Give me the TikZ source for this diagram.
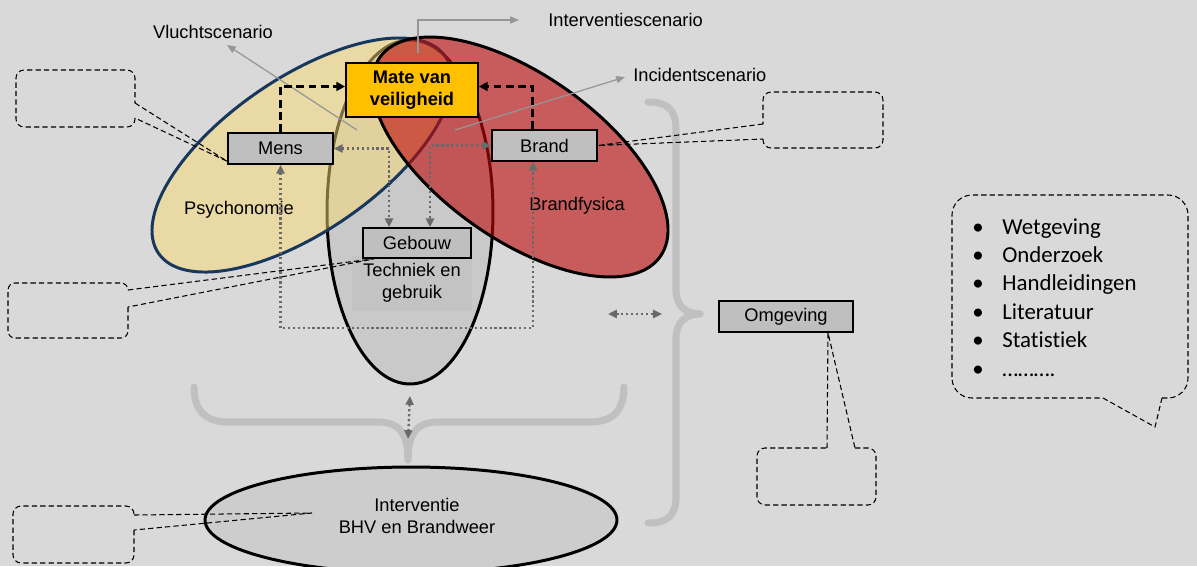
\documentclass[tikz,border=0pt]{standalone}
\usepackage{fontspec}
\setmainfont{Liberation Sans}
\newfontfamily\bubblefont[Ligatures=NoCommon]{Carlito}
\usetikzlibrary{arrows.meta,shapes.geometric,positioning}

\definecolor{bggray}{RGB}{217,217,217}
\definecolor{boxgray}{RGB}{191,191,191}
\definecolor{gold}{RGB}{255,192,0}
\definecolor{psyyellow}{RGB}{247,217,115}
\definecolor{psyblue}{RGB}{23,55,94}
\definecolor{firered}{RGB}{190,9,9}
\definecolor{bldgray}{RGB}{201,201,201}
\definecolor{techgray}{RGB}{195,195,195}
\definecolor{intervgray}{RGB}{205,205,205}
\definecolor{bracegray}{RGB}{192,192,192}
\definecolor{linkgray}{RGB}{105,105,105}
\definecolor{scengray}{RGB}{150,150,150}

\newcommand{\lblfont}{\fontsize{10.4}{12.5}\selectfont}

\tikzset{
    factor box/.style={rectangle, draw=black, line width=0.9pt, fill=boxgray, font=\lblfont, inner sep=0pt, minimum width=2.1cm, minimum height=0.62cm},
    key box/.style={factor box, fill=gold, font=\lblfont\bfseries, align=center, line width=1pt, minimum width=2.64cm, minimum height=1.08cm},
    zone/.style={ellipse, draw=black, line width=1.7pt, inner sep=0pt},
    zone label/.style={font=\lblfont, align=center, inner sep=0pt},
    brace line/.style={draw=bracegray, line width=4pt, line cap=round},
    link/.style={draw=linkgray, line width=1.3pt, dash pattern=on 1.3pt off 1.5pt, {Triangle[length=5pt,width=4.5pt]}-{Triangle[length=5pt,width=4.5pt]}},
    impact/.style={draw=black, line width=1.6pt, dash pattern=on 4.5pt off 2.5pt, -{Triangle[length=5pt,width=5pt]}},
    scenario/.style={draw=scengray, line width=0.7pt, -{Triangle[length=5pt,width=4pt]}},
    callout/.style={draw=black, line width=0.6pt, dash pattern=on 3pt off 1.8pt},
    bullet entry/.style={anchor=base west, inner sep=0pt, font=\bubblefont\fontsize{13}{15}\selectfont}
}

\begin{document}
\begin{tikzpicture}[x=0.02cm, y=-0.02cm]
    \fill[bggray] (0,0) rectangle (1197,566);
    \useasboundingbox (0,0) rectangle (1197,566);

    % braces
    \coordinate (rtip) at (700,314);
    \coordinate (btip) at (408,460);
    \draw[brace line] (648,102) .. controls (668,102) and (676,110) .. (676,130) -- (676,290) .. controls (676,306) and (686,314) .. (rtip);
    \draw[brace line] (rtip) .. controls (686,314) and (676,322) .. (676,338) -- (676,497) .. controls (676,515) and (668,523) .. (648,523);
    \draw[brace line] (194,387) .. controls (194,410) and (205,422) .. (228,422) -- (378,422) .. controls (398,422) and (408,432) .. (btip);
    \draw[brace line] (btip) .. controls (408,432) and (418,422) .. (438,422) -- (590,422) .. controls (613,422) and (624,410) .. (624,387);

    % zones
    \node[zone, fill=bldgray, minimum width=3.32cm, minimum height=6.88cm] (bldg) at (410,212) {};
    \node[zone, draw=psyblue, fill=psyyellow, fill opacity=0.5, rotate=34.4, minimum width=6.96cm, minimum height=3.08cm] (psy) at (302,155) {};
    \node[zone, fill=firered, fill opacity=0.6, rotate=-35.4, minimum width=6.88cm, minimum height=3.28cm] (fire) at (520,157) {};
    \node[zone, fill=intervgray, minimum width=8.24cm, minimum height=2.12cm] (interv) at (411,520) {};

    \node[zone label] (psylabel) at (239,210) {Psychonomie};
    \node[zone label] (firelabel) at (577,206) {Brandfysica};
    \node[zone label, fill=techgray, minimum width=2.4cm, minimum height=1.1cm] (bldglabel) at (412,283) {Techniek en\\gebruik};
    \node[zone label] (intervlabel) at (417,516) {Interventie\\BHV en Brandweer};

    % scenarios
    \node[zone label] (vlucht) at (213,32) {Vluchtscenario};
    \node[zone label, anchor=west] (intervscen) at (548,20) {Interventiescenario};
    \node[zone label, anchor=west] (incident) at (633,75) {Incidentscenario};
    \coordinate (vfrom) at (357,130);
    \coordinate (ifrom) at (418,53);
    \coordinate (cfrom) at (455,130);
    \draw[scenario] (vfrom) -- ([shift={(14,13)}]vlucht.center);
    \draw[scenario] (ifrom) |- ([xshift=-5.8mm]intervscen.west);
    \draw[scenario] (cfrom) -- ([shift={(-8,2)}]incident.west);

    % factors
    \node[key box] (mate) at (412,90) {Mate van\\veiligheid};
    \node[factor box] (mens) at (280.5,148.5) {Mens};
    \node[factor box] (brand) at (544.5,145.5) {Brand};
    \node[factor box, minimum width=2.16cm, minimum height=0.6cm] (gebouw) at (417,243) {Gebouw};
    \node[factor box, minimum width=2.68cm] (omgeving) at (786,316.5) {Omgeving};

    % links
    \coordinate (bend) at (400,328);
    \coordinate (envL) at (608,314);
    \draw[link] (mens.south) |- (bend) -| ([xshift=-2.3mm]brand.south);
    \draw[link] (mens.east) -| ([xshift=-5.6mm]gebouw.north);
    \draw[link] (brand.west) -| ([xshift=2.6mm]gebouw.north);
    \draw[link] ([yshift=-6pt]bldg.south) -- ([yshift=12pt]btip);
    \draw[link] (envL) -- ([xshift=-7.6mm]rtip);

    \draw[impact] (mens.north) |- ([yshift=2pt]mate.west);
    \draw[impact] ([xshift=-2.4mm]brand.north) |- ([yshift=2pt]mate.east);

    % callouts
    \coordinate (bhvtip) at (312,513);
    \draw[callout, rounded corners=1.6mm] (135,118) -- (135,127) -- (16,127) -- (16,70) -- (135,70) -- (135,103);
    \draw[callout] (135,103) -- ([yshift=2pt]mens.south west) -- (135,118);
    \draw[callout, rounded corners=1.4mm] (128,307) -- (128,338) -- (8,338) -- (8,283) -- (128,283) -- (128,290);
    \draw[callout] (128,290) -- ([xshift=2.4mm]gebouw.south west) -- (128,307);
    \draw[callout, rounded corners=1.6mm] (763,139) -- (763,148) -- (883,148) -- (883,92) -- (763,92) -- (763,124);
    \draw[callout] (763,124) -- (brand.east) -- (763,139);
    \draw[callout, rounded corners=1.6mm] (855,448) -- (876,448) -- (876,505) -- (757,505) -- (757,448) -- (827,448);
    \draw[callout] (827,448) -- ([xshift=8.4mm]omgeving.south) -- (855,448);
    \draw[callout, rounded corners=1.6mm] (134,530) -- (134,563) -- (13,563) -- (13,506) -- (134,506) -- (134,515);
    \draw[callout] (134,515) -- (bhvtip) -- (134,530);

    % sources
    \draw[callout, rounded corners=4mm] (1162,398) -- (1188,398) -- (1188,195) -- (952,195) -- (952,398) -- (1103,398);
    \draw[callout] (1103,398) -- (1155,427) -- (1162,398);
    \foreach \entry [count=\i] in {Wetgeving, Onderzoek, Handleidingen, Literatuur, Statistiek, ……….} {
        \node[bullet entry] (dot\i) at (972,205.6+28.4*\i) {•};
        \node[bullet entry] (src\i) at (1002,205.6+28.4*\i) {\entry};
    }
\end{tikzpicture}
\end{document}
